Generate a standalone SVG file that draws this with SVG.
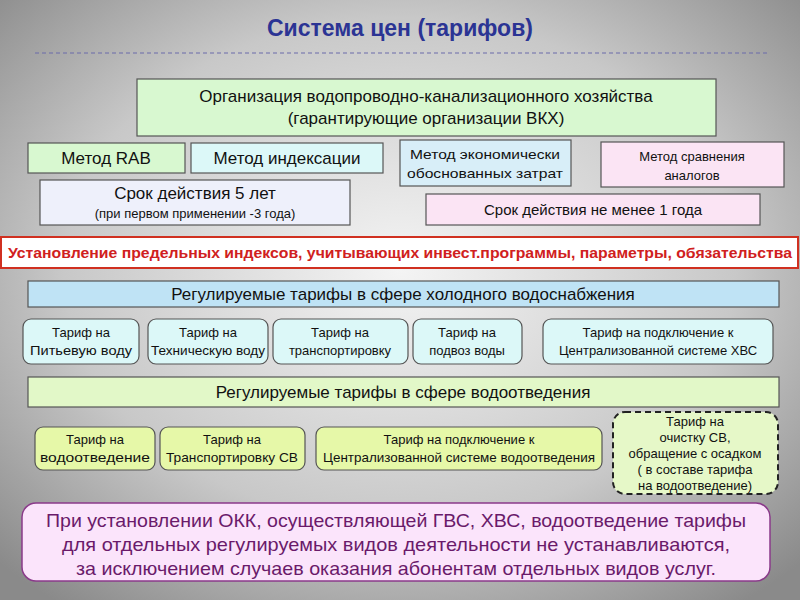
<svg xmlns="http://www.w3.org/2000/svg" width="800" height="600" viewBox="0 0 800 600">
<defs>
<radialGradient id="bg" cx="50%" cy="45%" r="70%"><stop offset="0" stop-color="#f4f4f4"/><stop offset="0.6" stop-color="#c8c8c8"/><stop offset="1" stop-color="#8a8a8a"/></radialGradient>
<style>
text{font-family:"Liberation Sans","Noto Sans",sans-serif;text-anchor:middle;fill:#111}
.b{stroke:#555;stroke-width:1.2}
.g{fill:#d8f8d0}.c{fill:#dcf8f8}.lb{fill:#d8eef8}.pk{fill:#fbe4f4}.lv{fill:#eef0fb}.hb{fill:#bfe3f5}.lg{fill:#e2f8c8}.yg{fill:#e6f8a8}
.t16{font-size:17px}.t14{font-size:15px}.t12{font-size:13px}
</style>
</defs>
<rect width="800" height="600" fill="url(#bg)"/>
<text x="400" y="36" style="font-size:23px;font-weight:bold;fill:#2b3494">Система цен (тарифов)</text>
<line x1="35" y1="53" x2="770" y2="53" stroke="#6a6aaa" stroke-dasharray="4,3"/>
<g id="org"><rect class="b g" x="137" y="79" width="579" height="57"/><text class="t16" x="426" y="102">Организация водопроводно-канализационного  хозяйства</text><text class="t16" x="426" y="124">(гарантирующие организации ВКХ)</text></g>
<g id="rab"><rect class="b g" x="28" y="143" width="157" height="30"/><text class="t16" x="106" y="164">Метод RAB</text></g>
<g id="idx"><rect class="b c" x="191" y="143" width="192" height="30"/><text class="t16" x="287" y="164">Метод индексации</text></g>
<g id="econ"><rect class="b lb" x="400" y="140" width="171" height="46"/><text class="t12" x="485" y="159" textLength="150" lengthAdjust="spacingAndGlyphs">Метод экономически</text><text class="t12" x="485" y="178" textLength="156" lengthAdjust="spacingAndGlyphs">обоснованных затрат</text></g>
<g id="comp"><rect class="b pk" x="601" y="142" width="183" height="45"/><text class="t12" x="692" y="161">Метод сравнения</text><text class="t12" x="692" y="180">аналогов</text></g>
<g id="term5"><rect class="b lv" x="40" y="180" width="310" height="45"/><text class="t16" x="195" y="199">Срок действия 5 лет</text><text class="t12" x="195" y="218">(при первом применении -3 года)</text></g>
<g id="term1"><rect class="b pk" x="426" y="194" width="334" height="31"/><text class="t14" x="593" y="215">Срок действия не менее 1 года</text></g>
<g id="limit"><rect x="1" y="237" width="797" height="31" fill="#fff" stroke="#d03020" stroke-width="2"/><text x="400" y="258" textLength="784" lengthAdjust="spacingAndGlyphs" style="font-size:14.5px;font-weight:bold;fill:#d02020">Установление предельных индексов, учитывающих инвест.программы, параметры, обязательства</text></g>
<g id="hvs"><rect class="b hb" x="28" y="281" width="751" height="26"/><text class="t16" x="403" y="300">Регулируемые тарифы в сфере  холодного водоснабжения</text></g>
<g id="t1"><rect class="b c" x="23" y="319" width="116" height="45" rx="8"/><text class="t12" x="81" y="337">Тариф на</text><text class="t12" x="81" y="355" textLength="102" lengthAdjust="spacingAndGlyphs">Питьевую воду</text></g>
<g id="t2"><rect class="b c" x="148" y="319" width="120" height="45" rx="8"/><text class="t12" x="208" y="337">Тариф на</text><text class="t12" x="208" y="355" textLength="114" lengthAdjust="spacingAndGlyphs">Техническую воду</text></g>
<g id="t3"><rect class="b c" x="273" y="319" width="135" height="45" rx="8"/><text class="t12" x="340" y="337">Тариф на</text><text class="t12" x="340" y="355">транспортировку</text></g>
<g id="t4"><rect class="b c" x="413" y="319" width="109" height="45" rx="8"/><text class="t12" x="467" y="337">Тариф на</text><text class="t12" x="467" y="355">подвоз воды</text></g>
<g id="t5"><rect class="b c" x="543" y="319" width="230" height="45" rx="8"/><text class="t12" x="658" y="337">Тариф на подключение к</text><text class="t12" x="658" y="355">Централизованной системе ХВС</text></g>
<g id="vo"><rect class="b lg" x="28" y="377" width="751" height="30"/><text class="t16" x="403" y="398">Регулируемые тарифы в сфере водоотведения</text></g>
<g id="w1"><rect class="b yg" x="35" y="427" width="120" height="43" rx="8"/><text class="t12" x="95" y="444">Тариф на</text><text class="t12" x="95" y="462" textLength="110" lengthAdjust="spacingAndGlyphs">водоотведение</text></g>
<g id="w2"><rect class="b yg" x="160" y="427" width="145" height="43" rx="8"/><text class="t12" x="232" y="444">Тариф на</text><text class="t12" x="232" y="462" textLength="132" lengthAdjust="spacingAndGlyphs">Транспортировку СВ</text></g>
<g id="w3"><rect class="b yg" x="316" y="427" width="286" height="43" rx="8"/><text class="t12" x="459" y="444">Тариф на подключение к</text><text class="t12" x="459" y="462" textLength="272" lengthAdjust="spacingAndGlyphs">Централизованной системе водоотведения</text></g>
<g id="w4"><rect x="613" y="412" width="165" height="82" rx="12" fill="#e6f8c8" stroke="#222" stroke-width="2" stroke-dasharray="6,4"/><text class="t12" x="695" y="426">Тариф на</text><text class="t12" x="695" y="442">очистку СВ,</text><text class="t12" x="695" y="458">обращение с осадком</text><text class="t12" x="695" y="474">( в составе тарифа</text><text class="t12" x="695" y="490">на водоотведение)</text></g>
<g id="note"><rect x="22" y="503" width="748" height="78" rx="14" fill="#fbe4fb" stroke="#8a3a8a" stroke-width="1.5"/><text x="396" y="527" textLength="700" lengthAdjust="spacingAndGlyphs" style="font-size:19px;fill:#6a1a6a">При установлении ОКК, осуществляющей ГВС, ХВС, водоотведение тарифы</text><text x="396" y="551" textLength="668" lengthAdjust="spacingAndGlyphs" style="font-size:19px;fill:#6a1a6a">для отдельных регулируемых видов деятельности не устанавливаются,</text><text x="396" y="575" textLength="640" lengthAdjust="spacingAndGlyphs" style="font-size:19px;fill:#6a1a6a">за исключением случаев оказания абонентам отдельных видов услуг.</text></g>
<g id="connectors"></g>
</svg>
